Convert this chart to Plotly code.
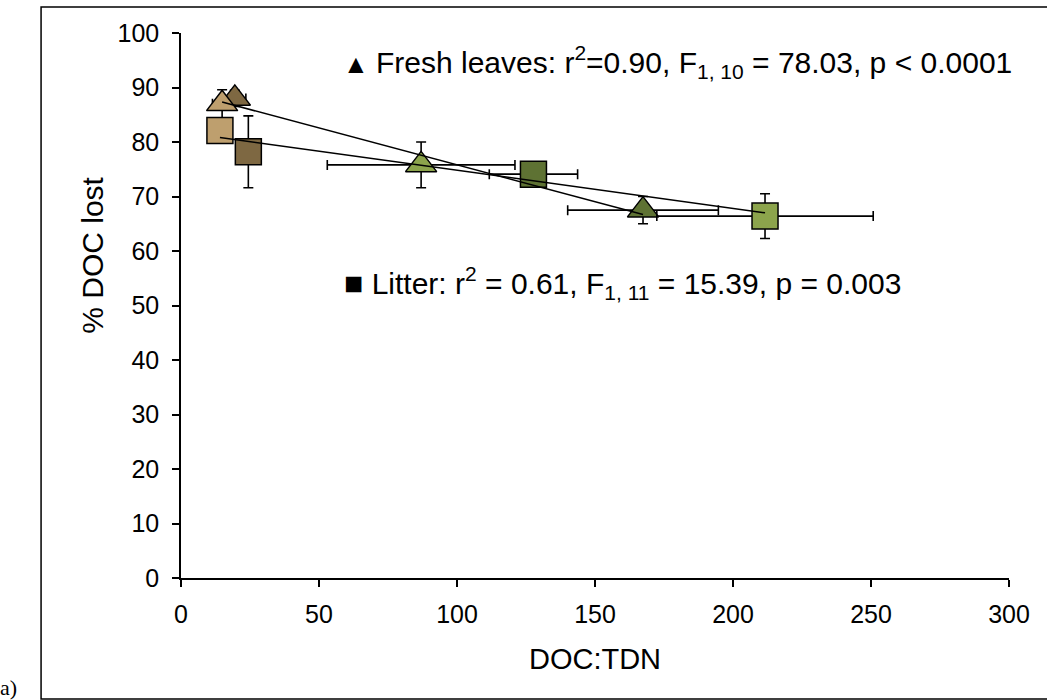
import numpy as np
import plotly.graph_objects as go

# ---- data ----
fresh_x = [19.5, 14.9, 87.0, 167.4]
fresh_y = [88.0, 87.0, 75.8, 67.5]
fresh_xerr = [4.0, 3.5, 34.0, 27.3]
fresh_yerr = [1.5, 2.6, 4.2, 2.5]
fresh_colors = ["#7E6842", "#BE9F6E", "#8CA44C", "#5E7233"]

litter_x = [14.1, 24.4, 127.7, 211.6]
litter_y = [82.1, 78.2, 74.1, 66.4]
litter_xerr = [2.0, 2.0, 16.0, 39.2]
litter_yerr = [2.0, 6.6, 1.5, 4.1]
litter_colors = ["#BE9F6E", "#7E6842", "#5E7233", "#8CA44C"]

x_ticks = [0, 50, 100, 150, 200, 250, 300]
y_ticks = [0, 10, 20, 30, 40, 50, 60, 70, 80, 90, 100]

FONT = "Liberation Sans, Arial, Helvetica, sans-serif"

fig = go.Figure()

def err(a):
    return dict(type="data", array=a, visible=True, color="black",
                thickness=1.6, width=5)

fig.add_trace(go.Scatter(
    x=fresh_x, y=fresh_y, mode="markers",
    marker=dict(symbol="triangle-up", size=27, color=fresh_colors,
                line=dict(color="black", width=1.5)),
    error_x=err(fresh_xerr), error_y=err(fresh_yerr), showlegend=False))

fig.add_trace(go.Scatter(
    x=litter_x, y=litter_y, mode="markers",
    marker=dict(symbol="square", size=26, color=litter_colors,
                line=dict(color="black", width=1.5)),
    error_x=err(litter_xerr), error_y=err(litter_yerr), showlegend=False))

# trend lines (least squares through the plotted points)
for xs, ys in [(fresh_x, fresh_y), (litter_x, litter_y)]:
    b, a = np.polyfit(xs, ys, 1)
    lx = np.array([min(xs), max(xs)])
    fig.add_trace(go.Scatter(x=lx, y=a + b * lx, mode="lines",
                             line=dict(color="black", width=1.5),
                             showlegend=False, hoverinfo="skip"))

fig.add_annotation(
    x=57.9, y=94.7, xref="x", yref="y", xanchor="left", yanchor="middle",
    showarrow=False,
    text='<span style="font-size:26px">▲ </span>Fresh leaves: r<sup>2</sup>=0.90, '
         'F<sub>1, 10</sub> = 78.03, p &lt; 0.0001',
    font=dict(family=FONT, size=30, color="black"))
fig.add_annotation(
    x=58.5, y=54.1, xref="x", yref="y", xanchor="left", yanchor="middle",
    showarrow=False,
    text='<span style="font-size:32px">■</span> Litter: r<sup>2</sup> = 0.61, '
         'F<sub>1, 11</sub> = 15.39, p = 0.003',
    font=dict(family=FONT, size=30, color="black"))

# y-axis title (placed as in the reference, above the axis centre)
fig.add_annotation(
    x=-0.107, y=0.592, xref="paper", yref="paper", xanchor="center",
    yanchor="middle", showarrow=False, textangle=-90, text="% DOC lost",
    font=dict(family=FONT, size=30, color="black"))

fig.add_annotation(
    x=-0.208, y=-0.20, xref="paper", yref="paper", xanchor="center",
    yanchor="middle", showarrow=False, text="a)",
    font=dict(family="Liberation Serif, Times New Roman, serif", size=22,
              color="black"))

fig.add_shape(type="rect", xref="paper", yref="paper",
              x0=-0.169, x1=1.06, y0=-0.222, y1=1.0477,
              line=dict(color="black", width=1.5))

fig.update_xaxes(
    range=[0, 300], tickvals=x_ticks, ticks="outside", ticklen=7,
    tickwidth=1.5, tickcolor="black", showline=True, linecolor="black",
    linewidth=1.5, showgrid=False, zeroline=False, ticklabelstandoff=6,
    tickfont=dict(family=FONT, size=25, color="black"),
    title=dict(text="DOC:TDN", font=dict(family=FONT, size=29, color="black"),
               standoff=22))
fig.update_yaxes(
    range=[0, 100], tickvals=y_ticks, ticks="outside", ticklen=7,
    tickwidth=1.5, tickcolor="black", showline=True, linecolor="black",
    linewidth=1.5, showgrid=False, zeroline=False, ticklabelstandoff=8,
    tickfont=dict(family=FONT, size=25, color="black"))

fig.update_layout(
    width=1047, height=700,
    margin=dict(l=181, r=38, t=33, b=122, pad=0),
    plot_bgcolor="white", paper_bgcolor="white",
    font=dict(family=FONT, color="black"),
)

fig.write_html("out.html")
